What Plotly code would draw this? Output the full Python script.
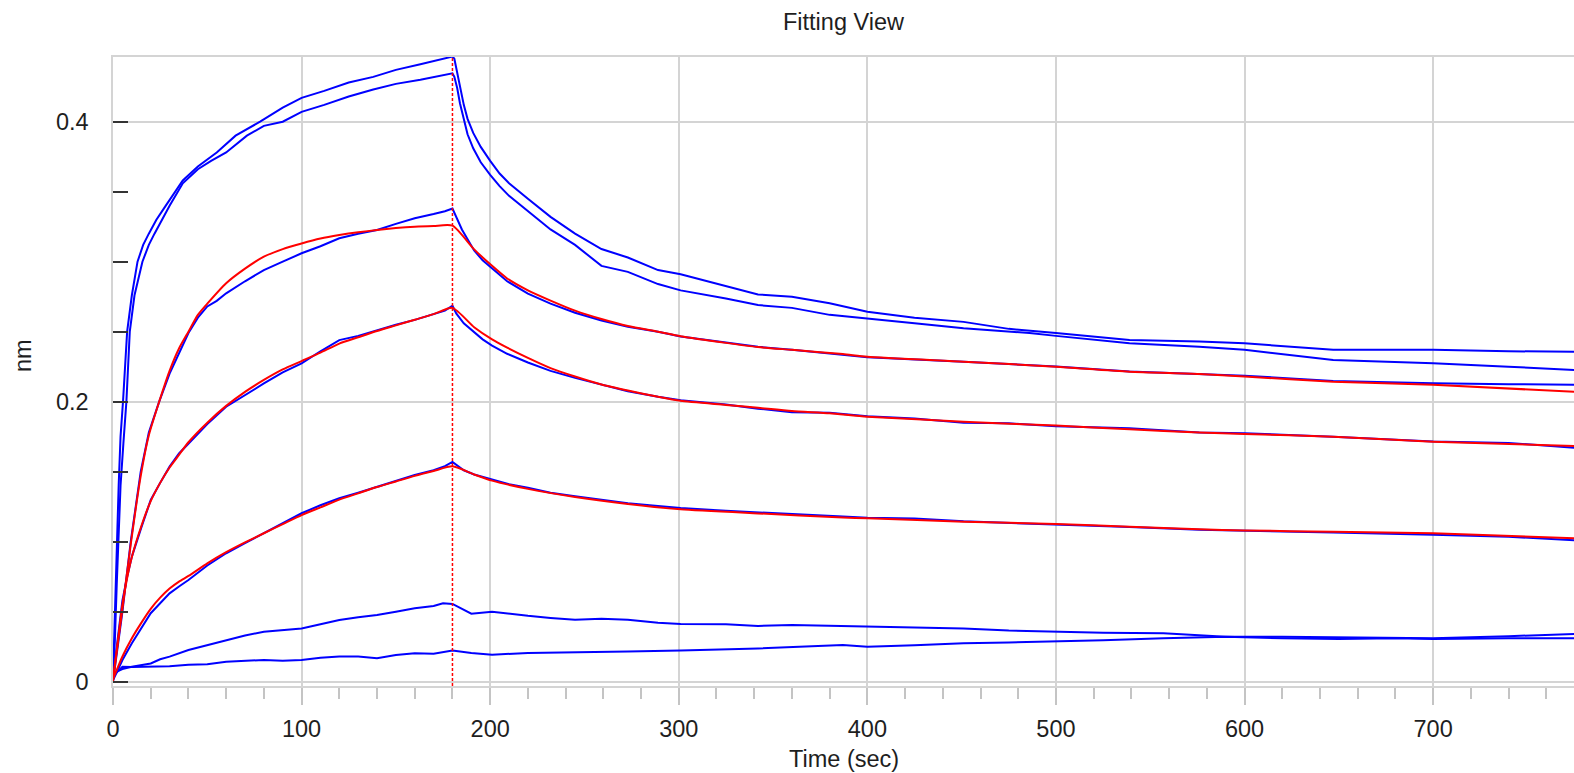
import plotly.graph_objects as go

# ---------------- data ----------------
# Blue measured sensorgrams (time in sec, response in nm)
b1_t = [0, 1, 2, 3, 4, 5.3, 7.5, 10, 13, 16, 19, 23, 28, 32, 37, 45, 55, 65, 78, 90, 100, 112, 125, 138, 150, 163, 175, 180,
        181, 182.5, 184, 186, 188, 191, 195, 200, 205, 210, 220, 232, 245, 259, 273, 289, 301, 325, 342, 360, 380, 400,
        425, 451, 475, 500, 539, 576, 600, 647, 700, 740, 775]
b1_v = [0.002, 0.05, 0.10, 0.14, 0.175, 0.2, 0.25, 0.276, 0.30, 0.312, 0.32, 0.33, 0.34, 0.348, 0.358, 0.368, 0.378, 0.39,
        0.40, 0.41, 0.417, 0.422, 0.428, 0.432, 0.437, 0.441, 0.4446, 0.4465,
        0.445, 0.435, 0.424, 0.412, 0.402, 0.392, 0.382, 0.372, 0.363, 0.356, 0.345, 0.332, 0.32, 0.309, 0.303, 0.294,
        0.291, 0.2825, 0.2766, 0.275, 0.2703, 0.2643, 0.26, 0.257, 0.252, 0.249, 0.244, 0.2429, 0.2417, 0.237, 0.237,
        0.236, 0.2357]

b2_t = [0, 1, 2, 3, 4, 5.5, 7.1, 8.9, 11.4, 15.6, 19, 22, 26, 30, 37, 45, 52, 60, 71, 80, 90, 100, 112, 125, 138, 150, 163, 175, 180,
        181, 182.5, 184, 186, 188, 191, 195, 200, 205, 210, 220, 232, 245, 259, 273, 289, 301, 325, 342, 360, 380, 400,
        425, 451, 486, 500, 539, 576, 600, 647, 700, 740, 775]
b2_v = [0.002, 0.03, 0.07, 0.11, 0.14, 0.17, 0.2, 0.25, 0.276, 0.30, 0.312, 0.32, 0.33, 0.34, 0.356, 0.366, 0.372, 0.378, 0.39,
        0.397, 0.40, 0.407, 0.412, 0.418, 0.423, 0.427, 0.430, 0.433, 0.4345,
        0.432, 0.424, 0.413, 0.401, 0.391, 0.381, 0.371, 0.362, 0.354, 0.347, 0.336, 0.323, 0.312, 0.297, 0.2927, 0.284,
        0.2795, 0.2737, 0.269, 0.267, 0.262, 0.2595, 0.256, 0.2524, 0.249, 0.247, 0.2417, 0.2393, 0.237, 0.2298, 0.2274,
        0.225, 0.2226]

b3_t = [0, 2, 5, 9.4, 14.7, 19, 24.5, 30, 35, 40, 45, 50, 55, 60, 70, 80, 90, 100, 110, 120, 130, 140, 150, 160, 170, 176, 180,
        182, 185, 188, 191.5, 196, 201, 209, 220, 232, 245, 259, 273, 289, 301, 325, 342, 360, 387, 400, 451, 500, 539,
        576, 600, 647, 700, 740, 775]
b3_v = [0.0, 0.02, 0.05, 0.1, 0.15, 0.178, 0.2, 0.22, 0.235, 0.249, 0.26, 0.268, 0.272, 0.2774, 0.286, 0.294, 0.300, 0.306,
        0.311, 0.3167, 0.320, 0.3226, 0.327, 0.331, 0.334, 0.336, 0.338,
        0.332, 0.323, 0.316, 0.308, 0.301, 0.295, 0.286, 0.2772, 0.27, 0.2635, 0.258, 0.2535, 0.25, 0.2465, 0.242,
        0.2392, 0.237, 0.2335, 0.2318, 0.2285, 0.2252, 0.2215, 0.22, 0.2185, 0.2148, 0.2131, 0.2125, 0.212]

b4_t = [0, 2.5, 5, 7.5, 10, 15, 20, 25, 30, 35, 40, 50, 60, 70, 80, 90, 100, 110, 120, 130, 140, 150, 160, 170, 176, 180,
        182, 186, 191.5, 196, 201, 209, 220, 232, 245, 259, 273, 289, 301, 325, 342, 360, 380, 400, 425, 451, 475, 500,
        539, 576, 600, 647, 700, 740, 775]
b4_v = [0.003, 0.03, 0.058, 0.075, 0.0893, 0.11, 0.1298, 0.142, 0.1536, 0.163, 0.17, 0.184, 0.1964, 0.205, 0.213, 0.221,
        0.2274, 0.236, 0.244, 0.247, 0.2512, 0.255, 0.2584, 0.2625, 0.265, 0.2685,
        0.263, 0.256, 0.2495, 0.2445, 0.2400, 0.2342, 0.228, 0.222, 0.217, 0.212, 0.2075, 0.2035, 0.201, 0.198, 0.195,
        0.1925, 0.192, 0.1895, 0.188, 0.185, 0.1845, 0.1825, 0.181, 0.178, 0.1775, 0.175, 0.1715, 0.1705, 0.167]

b5_t = [0, 2.5, 5, 10, 15, 20, 25, 30, 35, 40, 50, 60, 70, 80, 90, 100, 110, 120, 130, 140, 150, 160, 170, 176, 180,
        182, 186, 191.5, 201, 210, 220, 232, 245, 259, 273, 289, 301, 325, 342, 360, 387, 400, 425, 451, 475, 500, 539,
        576, 600, 647, 700, 740, 775]
b5_v = [0.001, 0.008, 0.0155, 0.0274, 0.038, 0.0489, 0.056, 0.0631, 0.068, 0.0726, 0.083, 0.0917, 0.099, 0.106, 0.113,
        0.1203, 0.126, 0.131, 0.135, 0.1393, 0.1435, 0.1476, 0.151, 0.154, 0.157,
        0.155, 0.151, 0.148, 0.1445, 0.141, 0.1385, 0.135, 0.1325, 0.13, 0.1275, 0.1255, 0.124, 0.122, 0.121, 0.1195,
        0.118, 0.117, 0.1165, 0.1145, 0.1135, 0.1125, 0.1105, 0.1085, 0.108, 0.1065, 0.105, 0.1035, 0.101]

b6_t = [0, 5, 10, 15, 20, 25, 30, 40, 50, 60, 70, 80, 90, 100, 110, 120, 130, 140, 150, 160, 170, 175, 180,
        185, 190, 201, 210, 220, 232, 245, 259, 273, 289, 301, 325, 342, 360, 387, 400, 425, 451, 475, 500, 525, 557,
        590, 620, 650, 680, 700, 740, 775]
b6_v = [0.006, 0.009, 0.0107, 0.012, 0.013, 0.016, 0.0179, 0.0226, 0.026, 0.0298, 0.033, 0.0357, 0.037, 0.038, 0.041,
        0.044, 0.046, 0.0476, 0.05, 0.0524, 0.054, 0.056, 0.0555,
        0.052, 0.0485, 0.05, 0.0485, 0.047, 0.0455, 0.0442, 0.045, 0.0442, 0.042, 0.0412, 0.041, 0.0398, 0.0405, 0.0398,
        0.0395, 0.0385, 0.038, 0.0365, 0.0357, 0.035, 0.0346, 0.0321, 0.032, 0.0315, 0.0315, 0.031, 0.0325, 0.034]

b7_t = [0, 5, 10, 20, 30, 40, 50, 60, 70, 80, 90, 100, 110, 120, 130, 140, 150, 160, 170, 180,
        190, 201, 220, 245, 273, 301, 342, 387, 400, 425, 451, 475, 500, 525, 557, 590, 620, 650, 680, 700, 740, 775]
b7_v = [0.004, 0.0107, 0.0105, 0.0107, 0.011, 0.012, 0.0125, 0.0143, 0.0148, 0.0155, 0.015, 0.0155, 0.017, 0.0179, 0.018,
        0.0167, 0.019, 0.0203, 0.02, 0.0222,
        0.0205, 0.0193, 0.0205, 0.0208, 0.0215, 0.0222, 0.0237, 0.0262, 0.025, 0.026, 0.0274, 0.028, 0.0286, 0.0295,
        0.031, 0.032, 0.031, 0.0305, 0.031, 0.0305, 0.031, 0.031]

# Red global-fit curves
r1_t = [0, 2, 5, 9.4, 14.7, 19, 24.5, 30, 35, 40, 45, 50, 60, 70, 80, 90, 100, 110, 120, 130, 140, 150, 160, 170, 180,
        191.5, 201, 209, 220, 232, 245, 259, 273, 289, 301, 325, 342, 360, 387, 400, 451, 500, 539, 576, 600, 647, 700, 775]
r1_v = [0.0, 0.022, 0.052, 0.098, 0.147, 0.176, 0.2, 0.222, 0.238, 0.25, 0.262, 0.270, 0.2846, 0.295, 0.3036, 0.309, 0.313,
        0.3165, 0.319, 0.321, 0.3226, 0.324, 0.325, 0.3255, 0.3257,
        0.3088, 0.297, 0.288, 0.2795, 0.2722, 0.265, 0.259, 0.254, 0.25, 0.2468, 0.242, 0.239, 0.237, 0.234, 0.2321,
        0.2286, 0.225, 0.2214, 0.2198, 0.2179, 0.2143, 0.212, 0.2071]

r2_t = [0, 2.5, 5, 7.5, 10, 15, 20, 25, 30, 35, 40, 50, 60, 70, 80, 90, 100, 110, 120, 130, 140, 150, 160, 170, 180,
        191.5, 201, 209, 220, 232, 245, 259, 273, 289, 301, 325, 342, 360, 380, 400, 451, 500, 539, 576, 600, 647, 700, 775]
r2_v = [0.002, 0.028, 0.055, 0.074, 0.089, 0.111, 0.129, 0.142, 0.153, 0.162, 0.171, 0.185, 0.197, 0.207, 0.2155, 0.223,
        0.229, 0.235, 0.2415, 0.246, 0.2505, 0.2545, 0.2585, 0.2625, 0.267,
        0.2532, 0.2445, 0.2386, 0.2313, 0.224, 0.218, 0.2123, 0.208, 0.2035, 0.2006, 0.1977, 0.1956, 0.1933, 0.1917,
        0.1893, 0.1857, 0.1829, 0.1803, 0.1779, 0.1769, 0.175, 0.1714, 0.1684]

r3_t = [0, 2.5, 5, 10, 15, 20, 25, 30, 35, 40, 50, 60, 70, 80, 90, 100, 110, 120, 130, 140, 150, 160, 170, 180,
        191.5, 201, 220, 245, 273, 301, 342, 387, 400, 451, 500, 539, 576, 600, 647, 700, 775]
r3_v = [0.002, 0.01, 0.018, 0.031, 0.042, 0.052, 0.06, 0.0665, 0.0715, 0.0755, 0.0845, 0.0925, 0.0995, 0.106, 0.1125,
        0.119, 0.1245, 0.13, 0.1345, 0.139, 0.143, 0.147, 0.1505, 0.1538,
        0.148, 0.1436, 0.1377, 0.1319, 0.1269, 0.1231, 0.1202, 0.1173, 0.1167, 0.1143, 0.1126, 0.1107, 0.1088, 0.108,
        0.1071, 0.106, 0.1024]

association_end = 180
x_ticks = [0, 100, 200, 300, 400, 500, 600, 700]
y_ticks = [0, 0.2, 0.4]

# ---------------- figure ----------------
FONT = "Liberation Sans, Arial, sans-serif"
TXT = "#1e1e1e"
GRID = "#d4d4d4"
FS = 23.5

fig = go.Figure()
for t, v in [(b1_t, b1_v), (b2_t, b2_v), (b3_t, b3_v), (b4_t, b4_v), (b5_t, b5_v), (b6_t, b6_v), (b7_t, b7_v)]:
    fig.add_trace(go.Scatter(x=t, y=v, mode="lines", line=dict(color="#0000ff", width=2),
                             showlegend=False, hoverinfo="skip"))
for t, v in [(r1_t, r1_v), (r2_t, r2_v), (r3_t, r3_v)]:
    fig.add_trace(go.Scatter(x=t, y=v, mode="lines", line=dict(color="#ff0000", width=2, shape="spline", smoothing=0.6),
                             showlegend=False, hoverinfo="skip"))

fig.add_shape(type="line", xref="x", yref="paper", x0=association_end, x1=association_end, y0=0, y1=1,
              line=dict(color="#ff0000", width=1.5, dash="3px,2px"), layer="above")

fig.update_layout(
    width=1574, height=773,
    margin=dict(l=113, r=0, t=57, b=87),
    paper_bgcolor="white", plot_bgcolor="white",
    font=dict(family=FONT, size=FS, color=TXT),
    title=dict(text="Fitting View", x=0.5, xref="paper", xanchor="center",
               y=1 - 22 / 773, yref="container", yanchor="middle",
               font=dict(family=FONT, size=FS, color=TXT)),
    xaxis=dict(range=[0, 774.7], tickvals=x_ticks, ticks="outside", ticklen=17, tickwidth=1.5, tickcolor="#c4c4c4",
               minor=dict(dtick=20, tick0=0, ticks="outside", ticklen=11, tickwidth=1.5, tickcolor="#c4c4c4", showgrid=False),
               showgrid=True, gridcolor=GRID, gridwidth=1.5, zeroline=False,
               showline=True, linecolor=GRID, linewidth=1.5, mirror=True,
               tickfont=dict(family=FONT, size=FS, color=TXT), ticklabelstandoff=4),
    yaxis=dict(range=[-0.0031, 0.4462], tickvals=y_ticks, ticks="inside", ticklen=15, tickwidth=2, tickcolor="#333333",
               minor=dict(dtick=0.05, tick0=0, ticks="inside", ticklen=15, tickwidth=2, tickcolor="#333333", showgrid=False),
               showgrid=True, gridcolor=GRID, gridwidth=1.5, zeroline=False,
               showline=True, linecolor=GRID, linewidth=1.5,
               tickfont=dict(family=FONT, size=FS, color=TXT), ticklabelstandoff=18),
    annotations=[
        dict(text="Time (sec)", xref="paper", yref="paper", x=0.5, y=(686 - 759) / 629, xanchor="center",
             yanchor="middle", showarrow=False, font=dict(family=FONT, size=FS, color=TXT)),
        dict(text="nm", xref="paper", yref="paper", x=(23 - 113) / 1461, y=(686 - 356) / 629, xanchor="center",
             yanchor="middle", textangle=-90, showarrow=False, font=dict(family=FONT, size=FS, color=TXT)),
    ],
)

fig.write_html("out.html", config={"displayModeBar": False},
               post_script="document.body.style.margin='0';")
